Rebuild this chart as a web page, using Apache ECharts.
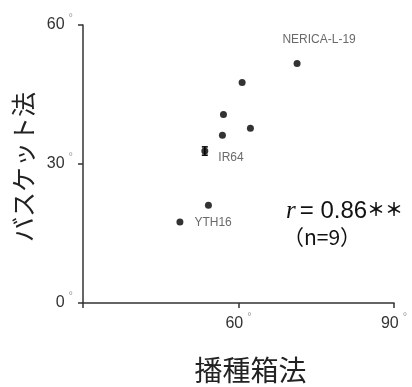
<!DOCTYPE html>
<html>
<head>
<meta charset="utf-8">
<script src="https://cdn.jsdelivr.net/npm/echarts@6/dist/echarts.min.js"></script>
<style>
  html, body { margin: 0; padding: 0; background: #fff; }
  #chart { width: 412px; height: 387px; }
</style>
</head>
<body>
<div id="chart"></div>
<script>
// 播種箱法 (x) vs バスケット法 (y)
var names  = ['NERICA-L-19', '', '', '', '', 'IR64', '', 'YTH16'];
var xVals  = [71.3, 60.7, 57.1, 62.3, 56.9, 53.5, 54.2, 48.7];
var yVals  = [51.7, 47.6, 40.7, 37.7, 36.2, 32.8, 21.1, 17.5];
// IR64 error bar [x, low, high]
var errBar = [[53.5, 31.9, 33.7]];
var xTicks = [60, 90];
var yTicks = [0, 30, 60];

var labelPos = {
    'NERICA-L-19': { position: 'top', offset: [22, -9] },
    'IR64': { position: 'right', offset: [5, 7] },
    'YTH16': { position: 'right', offset: [6, 1] }
};

var points = xVals.map(function (x, i) {
    var item = { value: [x, yVals[i]] };
    if (names[i]) {
        item.label = {
            show: true,
            formatter: names[i],
            position: labelPos[names[i]].position,
            offset: labelPos[names[i]].offset,
            color: '#444',
            fontSize: 12,
            fontFamily: 'Liberation Sans, Arial, sans-serif'
        };
    }
    return item;
});

var tickRich = {
    a: { fontSize: 16, color: '#333', fontFamily: 'Liberation Sans, Arial, sans-serif' },
    d: { fontSize: 11, color: '#999', padding: [0, 0, 14, 4] }
};

var dom = document.getElementById('chart');
var chart = echarts.init(dom);

var option = {
    animation: false,
    grid: { left: 83, top: 25, right: 18, bottom: 84, outerBoundsMode: 'none' },
    xAxis: {
        type: 'value',
        min: 30, max: 90, interval: 30,
        name: '播種箱法',
        nameLocation: 'middle',
        nameGap: 53,
        nameTextStyle: { fontSize: 28, color: '#222', fontFamily: 'Noto Sans CJK JP', padding: [0, 0, 0, 24] },
        axisLine: { lineStyle: { color: '#333', width: 1.5 } },
        axisTick: { show: true, length: 5, lineStyle: { color: '#333', width: 1.5 } },
        splitLine: { show: false },
        axisLabel: {
            margin: 8,
            formatter: function (v) {
                return xTicks.indexOf(v) >= 0 ? '{a|' + v + '}{d|°}' : '';
            },
            rich: tickRich
        }
    },
    yAxis: {
        type: 'value',
        min: 0, max: 60, interval: 30,
        name: 'バスケット法',
        nameLocation: 'middle',
        nameGap: 46,
        nameTextStyle: { fontSize: 25, color: '#222', fontFamily: 'Noto Sans CJK JP', padding: [0, 6, 0, 0] },
        axisLine: { show: true, lineStyle: { color: '#333', width: 1.5 } },
        axisTick: { show: true, length: 5, lineStyle: { color: '#333', width: 1.5 } },
        splitLine: { show: false },
        axisLabel: {
            margin: 10,
            formatter: function (v) {
                return yTicks.indexOf(v) >= 0 ? '{a|' + v + '}{d|°}' : '';
            },
            rich: tickRich
        }
    },
    series: [
        {
            type: 'scatter',
            symbolSize: 7,
            itemStyle: { color: '#000' },
            data: points
        },
        {
            type: 'custom',
            data: errBar,
            renderItem: function (params, api) {
                var top = api.coord([api.value(0), api.value(2)]);
                var bot = api.coord([api.value(0), api.value(1)]);
                var w = 3;
                var style = { stroke: '#000', lineWidth: 1.5 };
                return {
                    type: 'group',
                    children: [
                        { type: 'line', shape: { x1: top[0], y1: top[1], x2: bot[0], y2: bot[1] }, style: style },
                        { type: 'line', shape: { x1: top[0] - w, y1: top[1], x2: top[0] + w, y2: top[1] }, style: style },
                        { type: 'line', shape: { x1: bot[0] - w, y1: bot[1], x2: bot[0] + w, y2: bot[1] }, style: style }
                    ]
                };
            },
            z: 3
        }
    ],
    graphic: [
        {
            type: 'text',
            left: 286, top: 199,
            style: {
                text: '{i|r}{n|= 0.86}{s|＊＊}',
                rich: {
                    i: { fontSize: 25, fontStyle: 'italic', fontFamily: 'Liberation Serif, serif', fill: '#111', padding: [0, 4, 0, 0] },
                    n: { fontSize: 24, fontFamily: 'Liberation Sans, Arial, sans-serif', fill: '#111' },
                    s: { fontSize: 18, fontWeight: 'bold', fontFamily: 'Noto Sans CJK JP', fill: '#111', padding: [0, 0, 4, 0] }
                }
            }
        },
        {
            type: 'text',
            left: 283, top: 227,
            style: {
                text: '（n=9）',
                font: '21px "Noto Sans CJK JP"',
                fill: '#111'
            }
        }
    ]
};

chart.setOption(option);
window.addEventListener('resize', function () {
    chart.resize();
});
</script>
</body>
</html>
